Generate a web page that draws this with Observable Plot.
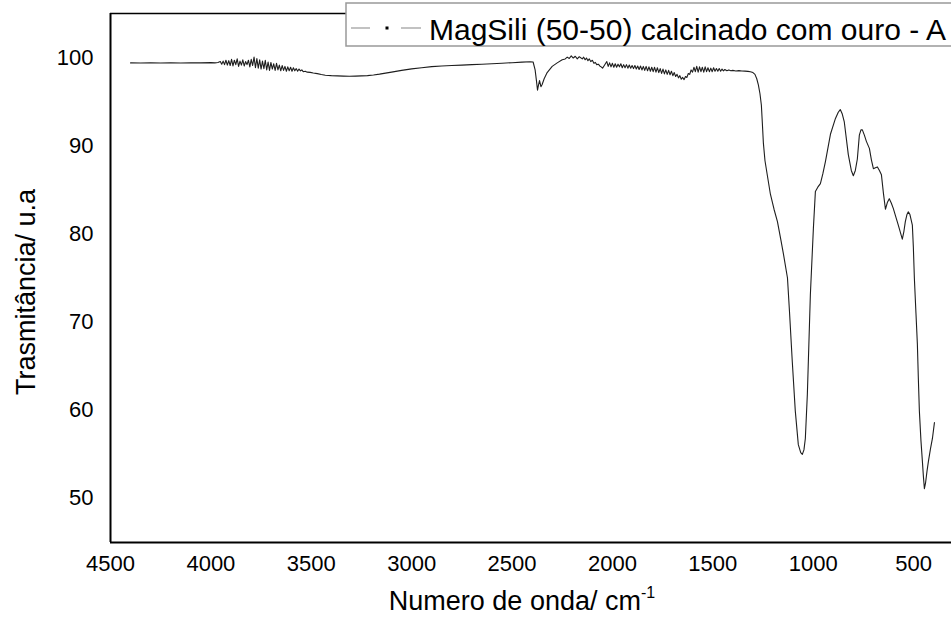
<!DOCTYPE html>
<html><head><meta charset="utf-8">
<script src="https://cdn.jsdelivr.net/npm/d3@7"></script>
<script src="https://cdn.jsdelivr.net/npm/@observablehq/plot@0.6"></script>
<style>body{margin:0;background:#fff;} svg{display:block;}</style>
</head><body><div id="chart"></div>
<script>
// [wavenumber cm-1, transmittance]
const flatStart = [[4400,99.40],[4350,99.38],[4300,99.40],[4250,99.38],[4200,99.41],[4150,99.39],[4100,99.42],[4050,99.40],[4000,99.43],[3980,99.40],[3965,99.45]];
const ohNoise = [[3953,99.55],[3946,99.25],[3939,99.60],[3932,99.20],[3925,99.70],[3918,99.15],[3911,99.65],[3904,99.10],[3897,99.80],[3890,99.05],[3883,99.70],[3876,99.20],[3869,99.85],[3862,99.00],[3855,99.60],[3848,99.15],[3841,99.75],[3834,99.05],[3827,99.55],[3820,99.20],[3813,99.70],[3806,98.95],[3799,99.80],[3792,99.10],[3785,100.05],[3778,98.85],[3771,99.90],[3764,98.80],[3757,99.75],[3750,98.70],[3743,99.60],[3736,98.75],[3729,99.70],[3722,98.60],[3715,99.50],[3708,98.55],[3701,99.45],[3694,98.70],[3687,99.30],[3680,98.55],[3673,99.35],[3666,98.60],[3659,99.15],[3652,98.50],[3645,99.10],[3638,98.55],[3631,99.00],[3624,98.45],[3617,98.95],[3610,98.50],[3603,98.90],[3596,98.45],[3589,98.85],[3582,98.50],[3575,98.75],[3568,98.45],[3561,98.70],[3554,98.50],[3547,98.60],[3540,98.40]];
const broadBand = [[3530,98.45],[3520,98.35],[3505,98.32],[3490,98.25],[3470,98.18],[3450,98.08],[3430,98.00],[3400,97.95],[3370,97.92],[3340,97.90],[3310,97.88],[3280,97.90],[3250,97.92],[3220,97.95],[3190,98.02],[3160,98.12],[3130,98.24],[3100,98.35],[3050,98.55],[3000,98.72],[2950,98.85],[2900,98.97],[2850,99.05],[2800,99.10],[2750,99.15],[2700,99.20],[2650,99.25],[2600,99.30],[2550,99.36],[2500,99.42],[2450,99.48],[2410,99.52]];
const co2Band = [[2395,99.50],[2385,98.60],[2378,97.30],[2373,96.30],[2368,96.90],[2363,97.40],[2356,96.70],[2350,96.95],[2340,97.60],[2325,98.30],[2300,99.00],[2275,99.40],[2250,99.75],[2235,99.85],[2225,100.05],[2215,99.90],[2205,100.20],[2195,99.95],[2185,100.15],[2175,99.85],[2165,100.10]];
const midNoise = [[2150,99.85],[2143,100.05],[2136,99.75],[2129,99.95],[2122,99.65],[2115,99.85],[2108,99.55],[2100,99.70],[2092,99.35],[2085,99.45],[2078,99.20],[2070,99.25],[2063,99.05],[2056,98.95],[2049,98.80],[2042,99.05],[2035,99.30],[2028,99.55],[2021,99.00],[2014,99.40],[2007,98.95],[2000,99.35],[1993,98.90],[1986,99.30],[1979,98.90],[1972,99.25],[1965,98.95],[1958,99.30],[1951,98.85],[1944,99.20],[1937,98.85],[1930,99.20],[1923,98.80],[1916,99.15],[1909,98.80],[1902,99.10],[1895,98.75],[1888,99.10],[1881,98.70],[1874,99.05],[1867,98.65],[1860,99.05],[1853,98.60],[1846,99.00],[1839,98.55],[1832,99.00],[1825,98.50],[1818,98.95],[1811,98.45],[1804,98.90],[1797,98.40],[1790,98.90],[1783,98.35],[1776,98.85],[1769,98.30],[1762,98.75],[1755,98.20],[1748,98.70],[1741,98.15],[1734,98.60],[1727,98.10],[1720,98.55],[1713,98.05],[1706,98.45],[1699,97.95],[1692,98.30],[1685,97.85],[1678,98.10],[1671,97.70],[1664,97.95],[1657,97.55],[1650,97.75],[1643,97.50],[1636,97.85],[1629,97.75],[1622,98.20],[1615,98.10],[1608,98.60],[1601,98.35],[1594,98.90],[1587,98.40],[1580,99.00],[1573,98.35],[1566,98.95],[1559,98.40],[1552,98.90],[1545,98.35],[1538,98.95],[1531,98.40],[1524,98.85],[1517,98.40],[1510,98.80],[1503,98.40],[1496,98.85],[1489,98.45],[1482,98.75],[1475,98.45],[1468,98.75],[1461,98.45],[1454,98.70],[1447,98.50],[1440,98.65],[1430,98.50],[1420,98.60],[1410,98.50],[1400,98.55],[1385,98.48],[1370,98.52],[1355,98.48],[1340,98.46],[1325,98.44],[1313,98.40]];
const fingerprint = [[1300,98.30],[1290,98.10],[1281,97.60],[1273,96.90],[1265,95.90],[1258,94.60],[1253,92.50],[1248,90.30],[1240,88.30],[1228,86.60],[1213,84.50],[1195,82.80],[1178,81.40],[1160,79.20],[1148,77.70],[1128,75.00],[1118,71.20],[1104,65.50],[1089,59.90],[1074,56.10],[1062,55.20],[1054,55.00],[1046,55.50],[1039,56.80],[1029,61.80],[1014,73.10],[999,80.60],[989,84.80],[977,85.30],[964,85.70],[952,86.80],[939,88.20],[914,91.30],[889,93.10],[875,93.80],[865,94.10],[855,93.60],[845,92.70],[825,89.00],[810,87.20],[800,86.60],[790,87.20],[780,88.50],[770,91.20],[762,91.80],[755,91.80],[745,91.20],[735,90.50],[720,89.70],[710,88.40],[700,87.40],[690,87.50],[680,87.60],[670,87.20],[660,86.70],[650,84.60],[640,82.80],[630,83.60],[621,84.00],[611,83.50],[601,82.90],[588,81.90],[576,81.00],[566,80.20],[556,79.40],[548,80.30],[541,81.40],[533,82.20],[526,82.50],[518,82.20],[506,81.00],[501,78.50],[496,75.00],[488,71.00],[481,67.50],[476,63.50],[471,59.90],[463,56.50],[456,54.20],[451,52.50],[446,51.10],[440,51.80],[433,53.10],[426,54.20],[416,55.60],[406,56.80],[396,58.60]];

const xTicks = [4500,4000,3500,3000,2500,2000,1500,1000,500];
const yTicks = [50,60,70,80,90,100];
const seriesName = "MagSili (50-50) calcinado com ouro - A";
const xTitle = "Numero de onda/ cm";
const xTitleSup = "-1";
const yTitle = "Trasmitância/ u.a";

const spectrum = [...flatStart, ...ohNoise, ...broadBand, ...co2Band, ...midNoise, ...fingerprint]
  .map(([w, t]) => ({w, t}));

const font = "'Liberation Sans', Arial, sans-serif";

const chart = Plot.plot({
  width: 951,
  height: 620,
  marginLeft: 110,
  marginRight: 0,
  marginTop: 13,
  marginBottom: 78,
  style: {fontFamily: font, fontSize: "22px", color: "#000", background: "#fff"},
  x: {domain: [4500, 311]},
  y: {domain: [45, 105]},
  marks: [
    Plot.axisX({ticks: xTicks, tickSize: 0, tickPadding: 13, tickFormat: d => String(d), label: null, fontSize: 22}),
    Plot.axisY({ticks: yTicks, tickSize: 0, tickPadding: 17, tickFormat: d => String(d), label: null, fontSize: 22}),
    Plot.ruleY([105], {stroke: "#000", strokeWidth: 1.5}),
    Plot.ruleX([4500], {stroke: "#000", strokeWidth: 2}),
    Plot.ruleY([45], {stroke: "#000", strokeWidth: 2}),
    Plot.line(spectrum, {x: "w", y: "t", stroke: "#1e1e1e", strokeWidth: 1.1})
  ]
});

const svg = d3.select(chart);

// legend
const lg = svg.append("g").attr("text-anchor", "start");
lg.append("rect").attr("x", 346).attr("y", 3).attr("width", 620).attr("height", 43)
  .attr("fill", "#fff").attr("stroke", "#999").attr("stroke-width", 1.5);
lg.append("line").attr("x1", 351).attr("x2", 370).attr("y1", 28).attr("y2", 28).attr("stroke", "#999").attr("stroke-width", 1.2);
lg.append("rect").attr("x", 385.5).attr("y", 26.5).attr("width", 3).attr("height", 3).attr("fill", "#000");
lg.append("line").attr("x1", 401).attr("x2", 421).attr("y1", 28).attr("y2", 28).attr("stroke", "#999").attr("stroke-width", 1.2);
lg.append("text").attr("x", 429).attr("y", 40).attr("text-anchor", "start").attr("font-family", font).attr("font-size", 30).attr("fill", "#000").text(seriesName);

// axis titles
const xt = svg.append("text").attr("x", 522).attr("y", 610).attr("text-anchor", "middle")
  .attr("font-family", font).attr("font-size", 27).attr("fill", "#000");
xt.append("tspan").text(xTitle);
xt.append("tspan").attr("dy", -12).attr("font-size", 16).text(xTitleSup);

svg.append("text").attr("transform", "translate(35,292) rotate(-90)").attr("text-anchor", "middle")
  .attr("font-family", font).attr("font-size", 27).attr("fill", "#000").text(yTitle);

document.getElementById("chart").appendChild(chart);
</script>
</body></html>
